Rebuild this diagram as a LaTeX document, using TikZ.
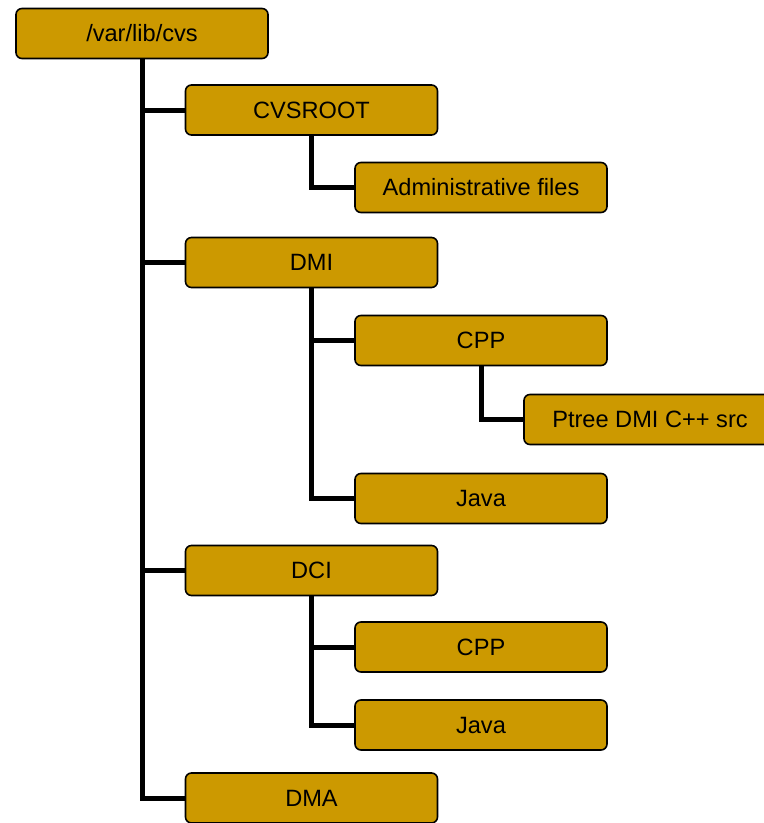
\documentclass[tikz,border=0pt]{standalone}
\usepackage{fontspec}
\setmainfont{Liberation Sans}
\usetikzlibrary{positioning}
\definecolor{folder}{RGB}{204,153,0}

\begin{document}
\begin{tikzpicture}[x=1pt, y=-1pt,
  dir/.style={draw=black, line width=1.6pt, fill=folder, rounded corners=6pt,
    minimum width=252pt, minimum height=50pt, inner sep=0pt,
    font=\fontsize{23.6}{28}\selectfont},
  link/.style={line width=5pt}]
\clip (0,0) rectangle (764,823);
% repository tree
\node[dir] (cvs) at (142,33.5) {/var/lib/cvs};
\node[dir] (cvsroot) at (311.5,110) {CVSROOT};
\node[dir] (admin) at (481,187.5) {Administrative files};
\node[dir] (dmi) at (311.5,262.5) {DMI};
\node[dir] (dmicpp) at (481,340.5) {CPP};
\node[dir] (ptree) at (650,419.5) {Ptree DMI C++ src};
\node[dir] (dmijava) at (481,498.5) {Java};
\node[dir] (dci) at (311.5,570.5) {DCI};
\node[dir] (dcicpp) at (481,647) {CPP};
\node[dir] (dcijava) at (481,725) {Java};
\node[dir] (dma) at (311.5,798) {DMA};

% connectors
\draw[link] (cvs.south) |- (dma.west);
\foreach \c in {cvsroot, dmi, dci}
  \draw[link] (cvs.south |- \c.west) -- (\c.west);
\draw[link] (cvsroot.south) |- (admin.west);
\draw[link] (dmi.south) |- (dmijava.west);
\draw[link] (dmi.south |- dmicpp.west) -- (dmicpp.west);
\draw[link] (dmicpp.south) |- (ptree.west);
\draw[link] (dci.south) |- (dcijava.west);
\draw[link] (dci.south |- dcicpp.west) -- (dcicpp.west);
\end{tikzpicture}
\end{document}
